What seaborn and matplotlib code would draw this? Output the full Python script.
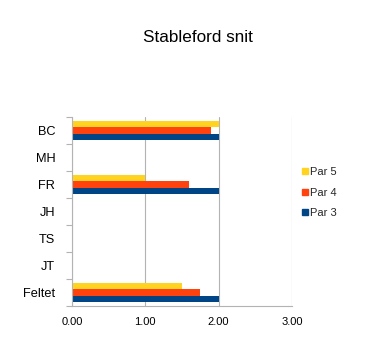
import matplotlib
matplotlib.use("Agg")
import matplotlib.pyplot as plt
from matplotlib.lines import Line2D
from matplotlib.ticker import FixedLocator, FormatStrFormatter
import seaborn as sns
import pandas as pd

players = ["BC", "MH", "FR", "JH", "TS", "JT", "Feltet"]
par5 = [2.0, 0, 1.0, 0, 0, 0, 1.5]
par4 = [1.9, 0, 1.6, 0, 0, 0, 1.75]
par3 = [2.0, 0, 2.0, 0, 0, 0, 2.0]
series = ["Par 5", "Par 4", "Par 3"]
colors = {"Par 5": "#ffd320", "Par 4": "#ff420e", "Par 3": "#004586"}

df = pd.DataFrame({
    "Spiller": players * 3,
    "Snit": par5 + par4 + par3,
    "Serie": ["Par 5"] * len(players) + ["Par 4"] * len(players) + ["Par 3"] * len(players),
})

sns.set_theme(style="white")
plt.rcParams["font.family"] = ["Liberation Sans", "DejaVu Sans"]

fig = plt.figure(figsize=(3.66, 3.47), dpi=100)
ax = fig.add_axes([72 / 366, 1 - 306 / 347, 220 / 366, 189 / 347])

sns.barplot(data=df, x="Snit", y="Spiller", hue="Serie", hue_order=series,
            order=players, palette=colors, orient="h", width=0.74,
            saturation=1, legend=False, ax=ax, linewidth=0)

ax.set_xlim(0, 3)
ax.set_ylim(len(players) - 0.5, -0.5)
ax.xaxis.set_major_locator(FixedLocator([0, 1, 2, 3]))
ax.xaxis.set_major_formatter(FormatStrFormatter("%.2f"))
ax.grid(axis="x", color="#b3b3b3", linewidth=0.8)
ax.set_axisbelow(True)
ax.set_xlabel("")
ax.set_ylabel("")

for s in ["top", "right"]:
    ax.spines[s].set_visible(False)
for s in ["left", "bottom"]:
    ax.spines[s].set_color("#b3b3b3")
    ax.spines[s].set_linewidth(0.8)

ax.tick_params(axis="x", which="major", length=4, color="#b3b3b3", width=0.8,
               labelsize=8, pad=4, labelcolor="black")
ax.tick_params(axis="y", which="major", length=0, labelsize=9.2, pad=12,
               labelcolor="black")
ax.yaxis.set_minor_locator(FixedLocator([i - 0.5 for i in range(len(players) + 1)]))
ax.tick_params(axis="y", which="minor", length=4, color="#b3b3b3", width=0.8, left=True)

handles = [Line2D([0], [0], marker="s", linestyle="", markersize=4.5,
                  markerfacecolor=colors[s], markeredgecolor=colors[s], label=s)
           for s in series]
fig.legend(handles=handles, loc="center left",
           bbox_to_anchor=(297 / 366, 1 - 192.5 / 347), frameon=False,
           borderaxespad=0, fontsize=8, handletextpad=0.15,
           labelspacing=0.95, handlelength=0.6)

fig.text(198 / 366, 1 - 42 / 347, "Stableford snit", ha="center", va="baseline",
         fontsize=12.3, color="black")

fig.savefig("out.png", dpi=100, facecolor="white")
